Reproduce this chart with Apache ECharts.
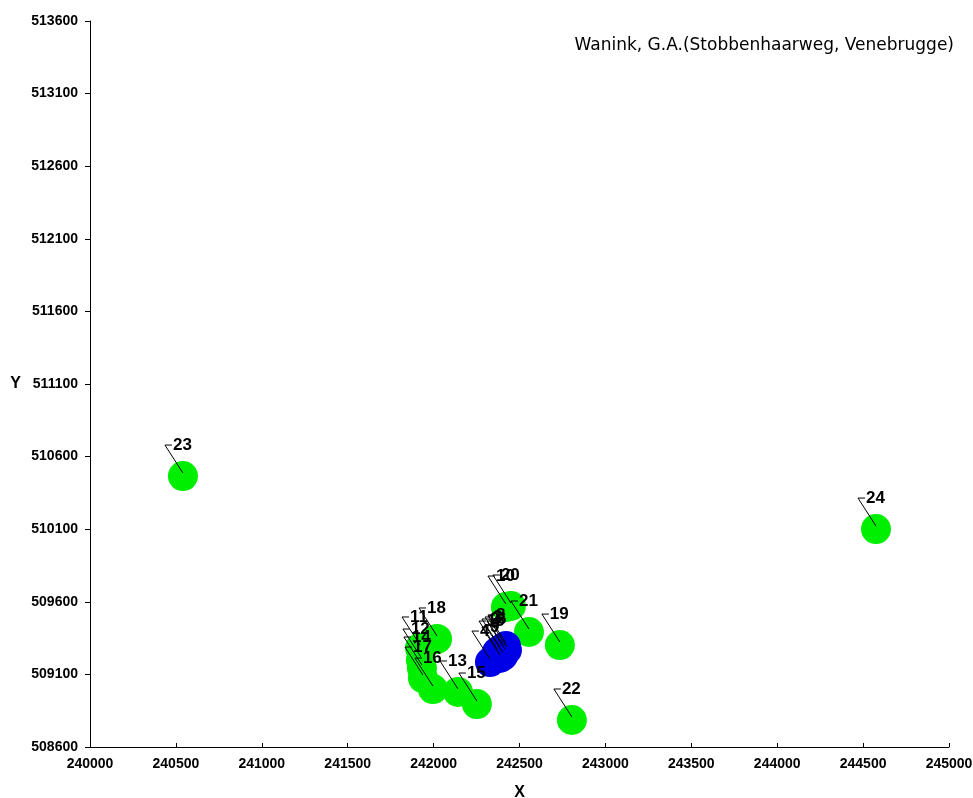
<!DOCTYPE html>
<html>
<head>
<meta charset="utf-8">
<script src="https://cdn.jsdelivr.net/npm/echarts@6/dist/echarts.min.js"></script>
<style>
  html, body { margin: 0; padding: 0; background: #fff; }
  #main { width: 973px; height: 798px; }
</style>
</head>
<body>
<div id="main"></div>
<script>
// blue points (1-9)
var blueNames = ['1', '2', '3', '4', '5', '6', '7', '8', '9'];
var blueX = [242369, 242386, 242404, 242328, 242415, 242427, 242404, 242421, 242386];
var blueY = [509254, 509268, 509282, 509185, 509254, 509268, 509227, 509296, 509213];

// green points (10-24)
var greenNames = ['10', '11', '12', '13', '14', '15', '16', '17', '18', '19', '20', '21', '22', '23', '24'];
var greenX = [242421, 241921, 241926, 242142, 241932, 242252, 241996, 241938, 242020, 242735, 242450, 242555, 242805, 240541, 244575];
var greenY = [509564, 509282, 509199, 508979, 509144, 508896, 508999, 509075, 509344, 509302, 509571, 509392, 508786, 510466, 510101];

var xTicks = [240000, 240500, 241000, 241500, 242000, 242500, 243000, 243500, 244000, 244500, 245000];
var yTicks = [508600, 509100, 509600, 510100, 510600, 511100, 511600, 512100, 512600, 513100, 513600];

var titleText = 'Wanink, G.A.(Stobbenhaarweg, Venebrugge)';

var chart = echarts.init(document.getElementById('main'));

function pairs(xs, ys, names) {
    return xs.map(function (x, i) { return [x, ys[i], names[i]]; });
}
var greenData = pairs(greenX, greenY, greenNames);
var blueData = pairs(blueX, blueY, blueNames);
var allData = greenData.concat(blueData);

var axisFont = {
    fontFamily: 'Liberation Sans, Arial', fontWeight: 'bold', fontSize: 14, color: '#000',
    formatter: function (v) { return String(v); }
};

var option = {
    backgroundColor: '#fff',
    animation: false,
    title: {
        text: titleText,
        right: 14,
        top: 32,
        textStyle: { fontFamily: 'DejaVu Sans', fontWeight: 'normal', fontSize: 17, color: '#000' }
    },
    grid: { left: 90, right: 24, top: 21, bottom: 51, outerBoundsMode: 'none' },
    xAxis: {
        type: 'value',
        min: xTicks[0],
        max: xTicks[xTicks.length - 1],
        interval: 500,
        name: 'X',
        nameLocation: 'middle',
        nameGap: 38,
        nameTextStyle: { fontFamily: 'Liberation Sans, Arial', fontWeight: 'bold', fontSize: 16, color: '#000' },
        axisLine: { onZero: false, lineStyle: { color: '#000', width: 1 } },
        axisTick: { inside: true, length: 4, lineStyle: { color: '#000' } },
        axisLabel: Object.assign({ margin: 10 }, axisFont),
        splitLine: { show: false }
    },
    yAxis: {
        type: 'value',
        min: yTicks[0],
        max: yTicks[yTicks.length - 1],
        interval: 500,
        name: 'Y',
        nameLocation: 'middle',
        nameRotate: 0,
        nameGap: 69,
        nameTextStyle: { fontFamily: 'Liberation Sans, Arial', fontWeight: 'bold', fontSize: 16, color: '#000' },
        axisLine: { show: true, onZero: false, lineStyle: { color: '#000', width: 1 } },
        axisTick: { show: true, length: 5, lineStyle: { color: '#000' } },
        axisLabel: Object.assign({ margin: 12 }, axisFont),
        splitLine: { show: false }
    },
    series: [
        {
            type: 'scatter',
            data: greenData,
            symbolSize: 30,
            itemStyle: { color: '#00ee00', opacity: 1 },
            z: 2
        },
        {
            type: 'scatter',
            data: blueData,
            symbolSize: 30,
            itemStyle: { color: '#0000e6', opacity: 1 },
            z: 3
        },
        {
            // labels with leader lines
            type: 'custom',
            data: allData,
            z: 10,
            renderItem: function (params, api) {
                var p = api.coord([api.value(0), api.value(1)]);
                var name = allData[params.dataIndex][2];
                return {
                    type: 'group',
                    children: [
                        {
                            type: 'polyline',
                            shape: { points: [[p[0], p[1] - 3], [p[0] - 18, p[1] - 31], [p[0] - 11, p[1] - 31]] },
                            style: { stroke: '#000', lineWidth: 1, fill: null }
                        },
                        {
                            type: 'text',
                            x: p[0] - 10,
                            y: p[1] - 31,
                            style: {
                                text: name,
                                fill: '#000',
                                font: 'bold 17px "Liberation Sans", Arial',
                                textAlign: 'left',
                                textVerticalAlign: 'middle'
                            }
                        }
                    ]
                };
            }
        }
    ]
};

option && chart.setOption(option);
</script>
</body>
</html>
